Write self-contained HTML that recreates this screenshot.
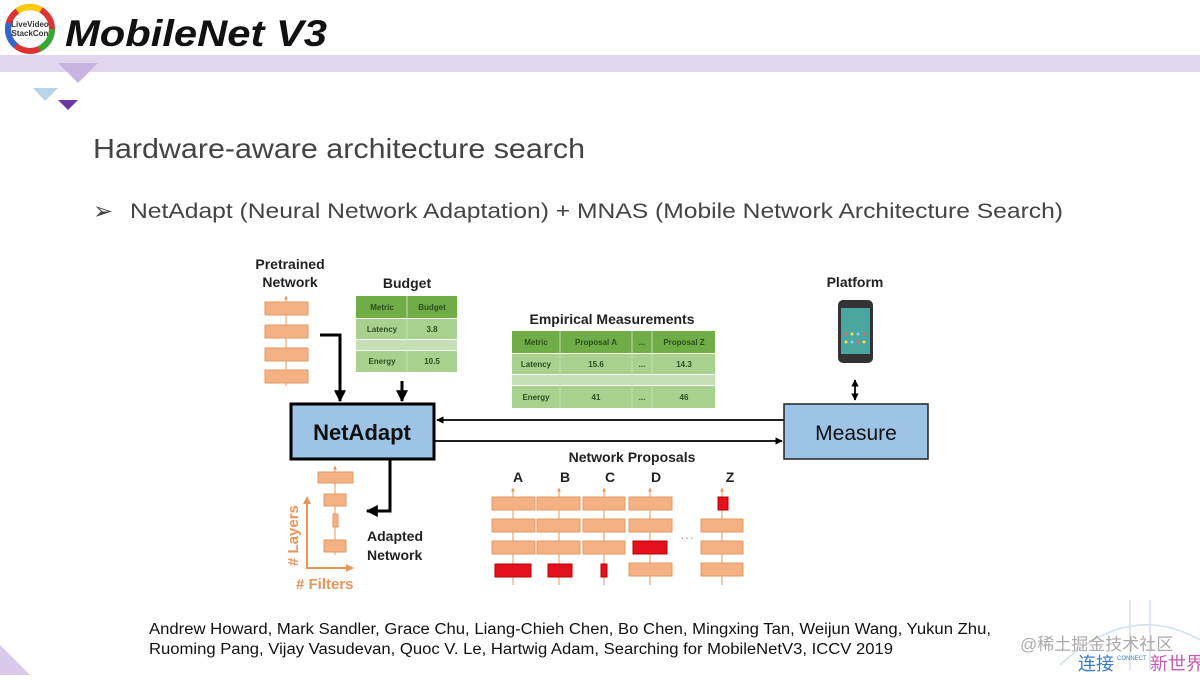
<!DOCTYPE html>
<html><head><meta charset="utf-8"><style>
body{margin:0;width:1200px;height:675px;overflow:hidden;background:#fff;font-family:"Liberation Sans",sans-serif}
</style></head><body>
<svg width="1200" height="675" viewBox="0 0 1200 675" xmlns="http://www.w3.org/2000/svg" font-family="Liberation Sans, sans-serif">
<defs>
<marker id="ah" viewBox="0 0 10 10" refX="9" refY="5" markerWidth="4" markerHeight="4" orient="auto-start-reverse"><path d="M0,0L10,5L0,10z" fill="#000"/></marker>
<marker id="oa" viewBox="0 0 10 10" refX="9" refY="5" markerWidth="4" markerHeight="4" orient="auto"><path d="M0,0L10,5L0,10z" fill="#e8955a"/></marker>
</defs>
<!-- header -->
<rect x="0" y="55" width="1200" height="17" fill="#e2d6ef"/>
<circle cx="30" cy="29" r="22" fill="none" stroke="#d33" stroke-width="6"/>
<circle cx="30" cy="29" r="22" fill="none" stroke="#3a3" stroke-width="6" stroke-dasharray="25 113" />
<circle cx="30" cy="29" r="22" fill="none" stroke="#36c" stroke-width="6" stroke-dasharray="25 113" stroke-dashoffset="-50"/>
<circle cx="30" cy="29" r="22" fill="none" stroke="#fc0" stroke-width="6" stroke-dasharray="25 113" stroke-dashoffset="-90"/>
<text x="30" y="27" font-size="8" font-weight="bold" text-anchor="middle" fill="#333">LiveVideo</text>
<text x="30" y="36" font-size="8" font-weight="bold" text-anchor="middle" fill="#333">StackCon</text>
<text x="65" y="46" font-size="37" font-weight="bold" font-style="italic" fill="#111" textLength="262" lengthAdjust="spacingAndGlyphs">MobileNet V3</text>
<polygon points="58,63 98,63 78,83" fill="#c8b4e0"/>
<polygon points="33,88 58,88 45,101" fill="#b8d4ea"/>
<polygon points="58,100 78,100 68,110" fill="#6a3aa0"/>
<polygon points="0,645 30,675 0,675" fill="#d8c8ea"/>
<!-- headings -->
<text x="93" y="158" font-size="28" fill="#444" textLength="492" lengthAdjust="spacingAndGlyphs">Hardware-aware architecture search</text>
<text x="93" y="219" font-size="24" fill="#444">➢</text>
<text x="130" y="218" font-size="21" fill="#444" textLength="933" lengthAdjust="spacingAndGlyphs">NetAdapt (Neural Network Adaptation) + MNAS (Mobile Network Architecture Search)</text>

<g font-weight="bold" fill="#222">
<text x="290" y="269" font-size="14" text-anchor="middle">Pretrained</text>
<text x="290" y="287" font-size="14" text-anchor="middle">Network</text>
<text x="407" y="288" font-size="14" text-anchor="middle">Budget</text>
<text x="612" y="324" font-size="14" text-anchor="middle">Empirical Measurements</text>
<text x="855" y="287" font-size="14" text-anchor="middle">Platform</text>
<text x="632" y="462" font-size="14" text-anchor="middle">Network Proposals</text>
<text x="518" y="482" font-size="14" text-anchor="middle">A</text>
<text x="565" y="482" font-size="14" text-anchor="middle">B</text>
<text x="610" y="482" font-size="14" text-anchor="middle">C</text>
<text x="656" y="482" font-size="14" text-anchor="middle">D</text>
<text x="730" y="482" font-size="14" text-anchor="middle">Z</text>
<text x="367" y="541" font-size="14">Adapted</text>
<text x="367" y="560" font-size="14">Network</text>
</g>

<!-- pretrained stack -->
<g stroke="#e8955a" stroke-width="1">
<line x1="286" y1="386" x2="286" y2="296" marker-end="url(#oa)"/>
</g>
<g fill="#f4b183" stroke="#e39a63">
<rect x="265" y="302" width="43" height="13"/>
<rect x="265" y="325" width="43" height="13"/>
<rect x="265" y="348" width="43" height="13"/>
<rect x="265" y="370" width="43" height="13"/>
</g>

<!-- budget table -->
<g font-size="8" font-weight="bold" fill="#2e4d1e" text-anchor="middle">
<rect x="356" y="296" width="101" height="22" fill="#70ad47"/>
<rect x="356" y="319" width="101" height="20" fill="#a9d18e"/>
<rect x="356" y="340" width="101" height="10" fill="#c5e0b4"/>
<rect x="356" y="351" width="101" height="21" fill="#a9d18e"/>
<line x1="407" y1="296" x2="407" y2="372" stroke="#c5e0b4"/>
<text x="382" y="310">Metric</text><text x="432" y="310">Budget</text>
<text x="382" y="332">Latency</text><text x="432" y="332">3.8</text>
<text x="382" y="364">Energy</text><text x="432" y="364">10.5</text>
</g>
<!-- empirical table -->
<g font-size="8" font-weight="bold" fill="#2e4d1e" text-anchor="middle">
<rect x="512" y="331" width="203" height="22" fill="#70ad47"/>
<rect x="512" y="354" width="203" height="20" fill="#a9d18e"/>
<rect x="512" y="375" width="203" height="10" fill="#c5e0b4"/>
<rect x="512" y="386" width="203" height="22" fill="#a9d18e"/>
<g stroke="#c5e0b4"><line x1="560" y1="331" x2="560" y2="408"/><line x1="632" y1="331" x2="632" y2="408"/><line x1="652" y1="331" x2="652" y2="408"/></g>
<text x="536" y="345">Metric</text><text x="596" y="345">Proposal A</text><text x="642" y="345">...</text><text x="684" y="345">Proposal Z</text>
<text x="536" y="367">Latency</text><text x="596" y="367">15.6</text><text x="642" y="367">...</text><text x="684" y="367">14.3</text>
<text x="536" y="400">Energy</text><text x="596" y="400">41</text><text x="642" y="400">...</text><text x="684" y="400">46</text>
</g>

<!-- arrows -->
<g stroke="#000" stroke-width="3" fill="none">
<polyline points="320,335 340,335 340,401" marker-end="url(#ah)"/>
<line x1="402" y1="381" x2="402" y2="401" marker-end="url(#ah)"/>
<polyline points="390,459 390,511 367,511" marker-end="url(#ah)"/>
</g>
<g stroke="#000" stroke-width="1.8">
<line x1="784" y1="420" x2="437" y2="420" marker-end="url(#ah)"/>
<line x1="434" y1="441" x2="782" y2="441" marker-end="url(#ah)"/>
<line x1="855" y1="380" x2="855" y2="400" marker-end="url(#ah)" marker-start="url(#ah)"/>
</g>
<rect x="291" y="404" width="143" height="55" fill="#9dc3e6" stroke="#000" stroke-width="3"/>
<text x="362" y="440" font-size="22" font-weight="bold" text-anchor="middle" fill="#111">NetAdapt</text>
<rect x="784" y="404" width="144" height="55" fill="#9dc3e6" stroke="#222" stroke-width="1.5"/>
<text x="856" y="440" font-size="21" text-anchor="middle" fill="#111">Measure</text>

<!-- phone -->
<rect x="838" y="300" width="35" height="63" rx="5" fill="#333"/>
<rect x="841" y="308" width="29" height="46" fill="#4aa6a0"/>
<g fill="#e66"><circle cx="846" cy="334" r="1.5"/><circle cx="852" cy="334" r="1.5" fill="#fd4"/><circle cx="858" cy="334" r="1.5" fill="#8cf"/><circle cx="864" cy="334" r="1.5"/><circle cx="846" cy="342" r="1.5" fill="#fd4"/><circle cx="852" cy="342" r="1.5" fill="#8cf"/><circle cx="858" cy="342" r="1.5"/><circle cx="864" cy="342" r="1.5" fill="#fd4"/></g>

<!-- adapted stack -->
<line x1="335" y1="555" x2="335" y2="466" stroke="#e8955a" marker-end="url(#oa)"/>
<g fill="#f4b183" stroke="#e39a63">
<rect x="318" y="472" width="35" height="11"/>
<rect x="324" y="494" width="22" height="12"/>
<rect x="333" y="514" width="5" height="13"/>
<rect x="324" y="540" width="22" height="12"/>
</g>
<g stroke="#e8955a" stroke-width="2" fill="none">
<polyline points="307,502 307,568 348,568"/>
</g>
<polygon points="303,504 307,496 311,504" fill="#e8955a"/><polygon points="346,564 354,568 346,572" fill="#e8955a"/>
<text x="0" y="0" font-size="15" font-weight="bold" fill="#e8955a" transform="translate(298,566) rotate(-90)"># Layers</text>
<text x="296" y="589" font-size="15" font-weight="bold" fill="#e8955a"># Filters</text>

<!-- proposals -->
<g stroke="#e8955a">
<line x1="513" y1="585" x2="513" y2="488" marker-end="url(#oa)"/>
<line x1="559" y1="585" x2="559" y2="488" marker-end="url(#oa)"/>
<line x1="604" y1="585" x2="604" y2="488" marker-end="url(#oa)"/>
<line x1="650" y1="585" x2="650" y2="488" marker-end="url(#oa)"/>
<line x1="722" y1="585" x2="722" y2="488" marker-end="url(#oa)"/>
</g>
<g fill="#f4b183" stroke="#e39a63">
<rect x="492" y="497" width="43" height="13"/><rect x="492" y="519" width="43" height="13"/><rect x="492" y="541" width="43" height="13"/>
<rect x="537" y="497" width="43" height="13"/><rect x="537" y="519" width="43" height="13"/><rect x="537" y="541" width="43" height="13"/>
<rect x="583" y="497" width="42" height="13"/><rect x="583" y="519" width="42" height="13"/><rect x="583" y="541" width="42" height="13"/>
<rect x="629" y="497" width="43" height="13"/><rect x="629" y="519" width="43" height="13"/><rect x="629" y="563" width="43" height="13"/>
<rect x="701" y="519" width="42" height="13"/><rect x="701" y="541" width="42" height="13"/><rect x="701" y="563" width="42" height="13"/>
</g>
<g fill="#e3101e" stroke="#b00">
<rect x="495" y="564" width="36" height="13"/>
<rect x="548" y="564" width="24" height="13"/>
<rect x="601" y="564" width="6" height="13"/>
<rect x="633" y="541" width="34" height="13"/>
<rect x="718" y="497" width="10" height="13"/>
</g>
<text x="680" y="542" font-size="14" fill="#aaa">···</text>

<!-- citation -->
<text x="149" y="634" font-size="15.5" fill="#111" textLength="842" lengthAdjust="spacingAndGlyphs">Andrew Howard, Mark Sandler, Grace Chu, Liang-Chieh Chen, Bo Chen, Mingxing Tan, Weijun Wang, Yukun Zhu,</text>
<text x="149" y="654" font-size="15.5" fill="#111" textLength="744" lengthAdjust="spacingAndGlyphs">Ruoming Pang, Vijay Vasudevan, Quoc V. Le, Hartwig Adam, Searching for MobileNetV3, ICCV 2019</text>

<!-- watermark -->
<g stroke="#c8d8e8" stroke-width="1.5" fill="none" opacity="0.8">
<line x1="1130" y1="600" x2="1130" y2="670"/><line x1="1150" y1="600" x2="1150" y2="670"/>
<path d="M1060,665 Q1130,600 1200,640"/>
</g>
<text x="1020" y="650" font-size="17" fill="#aaa" font-family="Liberation Sans, Noto Sans CJK SC, sans-serif">@稀土掘金技术社区</text>
<text x="1078" y="670" font-size="18" fill="#3a7cc9" font-family="Noto Sans CJK SC, sans-serif">连接</text>
<text x="1150" y="670" font-size="18" fill="#c45ab0" font-family="Noto Sans CJK SC, sans-serif">新世界</text>
<text x="1117" y="660" font-size="6" fill="#3a7cc9">CONNECT</text>
</svg>
</body></html>
